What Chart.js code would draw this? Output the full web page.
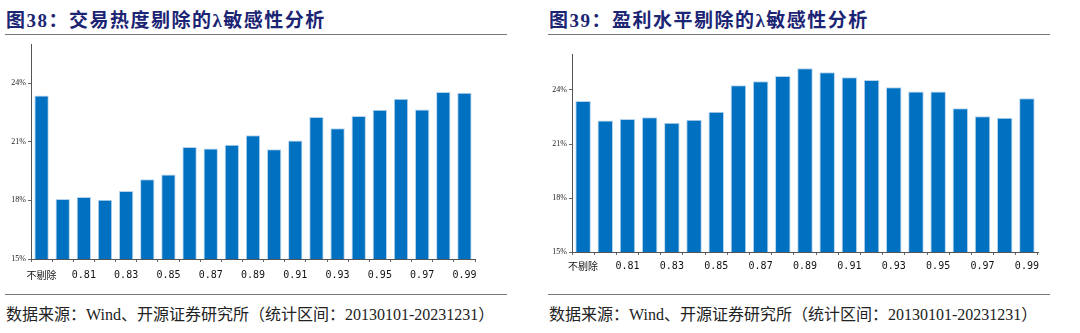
<!DOCTYPE html>
<html>
<head>
<meta charset="utf-8">
<script src="https://cdn.jsdelivr.net/npm/chart.js@4"></script>
<style>
  body { margin: 0; width: 1080px; height: 333px; background: #fff; position: relative; overflow: hidden; }
  .title { position: absolute; top: 5px; font: bold 19px "Liberation Serif", "Noto Sans CJK SC", serif; color: #1c2474; letter-spacing: 1.5px; }
  .rule { position: absolute; height: 1px; background: #777; }
  .foot { position: absolute; top: 301px; font: 16px "Liberation Serif", "Noto Sans CJK SC", serif; color: #222; }
  canvas { position: absolute; }
</style>
</head>
<body>
<div class="title" style="left:6px">图38：交易热度剔除的λ敏感性分析</div>
<div class="rule" style="left:5px; width:502px; top:34px"></div>
<canvas id="c1" width="510" height="250" style="left:0; top:36px"></canvas>
<div class="rule" style="left:5px; width:502px; top:294px"></div>
<div class="foot" style="left:6px">数据来源：Wind、开源证券研究所（统计区间：20130101-20231231）</div>

<div class="title" style="left:549px">图39：盈利水平剔除的λ敏感性分析</div>
<div class="rule" style="left:548px; width:502px; top:34px"></div>
<canvas id="c2" width="520" height="250" style="left:540px; top:36px"></canvas>
<div class="rule" style="left:548px; width:502px; top:294px"></div>
<div class="foot" style="left:549px">数据来源：Wind、开源证券研究所（统计区间：20130101-20231231）</div>

<script>
// 类别：不剔除 + λ = 0.80 ... 0.99
const categories = ["不剔除", "0.80", "0.81", "0.82", "0.83", "0.84", "0.85", "0.86", "0.87", "0.88", "0.89",
    "0.90", "0.91", "0.92", "0.93", "0.94", "0.95", "0.96", "0.97", "0.98", "0.99"];

// 图38 交易热度剔除（%）
const heatValues = [23.37, 18.07, 18.17, 18.03, 18.48, 19.08, 19.32, 20.73, 20.65, 20.84, 21.33,
    20.62, 21.06, 22.26, 21.69, 22.32, 22.63, 23.2, 22.65, 23.54, 23.5];

// 图39 盈利水平剔除（%）
const profitValues = [23.39, 22.31, 22.39, 22.48, 22.18, 22.35, 22.79, 24.26, 24.48, 24.78, 25.21,
    24.98, 24.71, 24.56, 24.15, 23.91, 23.91, 22.98, 22.54, 22.46, 23.54];

const yTicks = [15, 18, 21, 24];

// 数字用等宽字体，显得和原图的宋体一样宽
function drawBarChart(canvasId, values, opt) {
    const ctx = document.getElementById(canvasId).getContext("2d");
    new Chart(ctx, {
        type: "bar",
        data: {
            labels: categories,
            datasets: [{
                data: values,
                backgroundColor: "#0070c0",
                borderColor: "#b9d5ee",
                borderWidth: 1,
                borderSkipped: "bottom",
                barPercentage: opt.barPct,
                categoryPercentage: 1
            }]
        },
        options: {
            responsive: false,
            animation: false,
            layout: { padding: { top: opt.padTop, right: opt.padRight, left: 0, bottom: 0 } },
            plugins: { legend: { display: false }, tooltip: { enabled: false } },
            scales: {
                x: {
                    grid: { display: true, drawOnChartArea: false, offset: true, tickLength: 3, color: "#666" },
                    border: { color: "#555", width: 1 },
                    ticks: {
                        autoSkip: false,
                        maxRotation: 0,
                        padding: opt.xPad,
                        color: "#111",
                        font: ctx2 => ctx2.index === 0
                            ? { family: "Noto Sans CJK SC", size: 10 }
                            : { family: "DejaVu Sans Mono", size: 10 },
                        callback: (v, i) => i % 2 === 0 ? categories[i] : ""
                    },
                    afterFit: s => { s.height = opt.xHeight; }
                },
                y: {
                    min: 15,
                    max: 26,
                    afterBuildTicks: s => { s.ticks = yTicks.map(v => ({ value: v })); },
                    grid: { display: true, drawOnChartArea: false, tickLength: 3, color: "#666" },
                    border: { color: "#555", width: 1 },
                    ticks: {
                        padding: 2,
                        color: "#222",
                        font: { family: "Liberation Serif", size: 8 },
                        callback: v => v + "%"
                    },
                    afterFit: s => { s.width = opt.yWidth; }
                }
            }
        }
    });
}

drawBarChart("c1", heatValues, { padTop: 8, padRight: 35, xHeight: 27, yWidth: 31, barPct: 0.68, xPad: 7 });
drawBarChart("c2", profitValues, { padTop: 18, padRight: 22, xHeight: 34, yWidth: 32, barPct: 0.7, xPad: 5 });
</script>
</body>
</html>
